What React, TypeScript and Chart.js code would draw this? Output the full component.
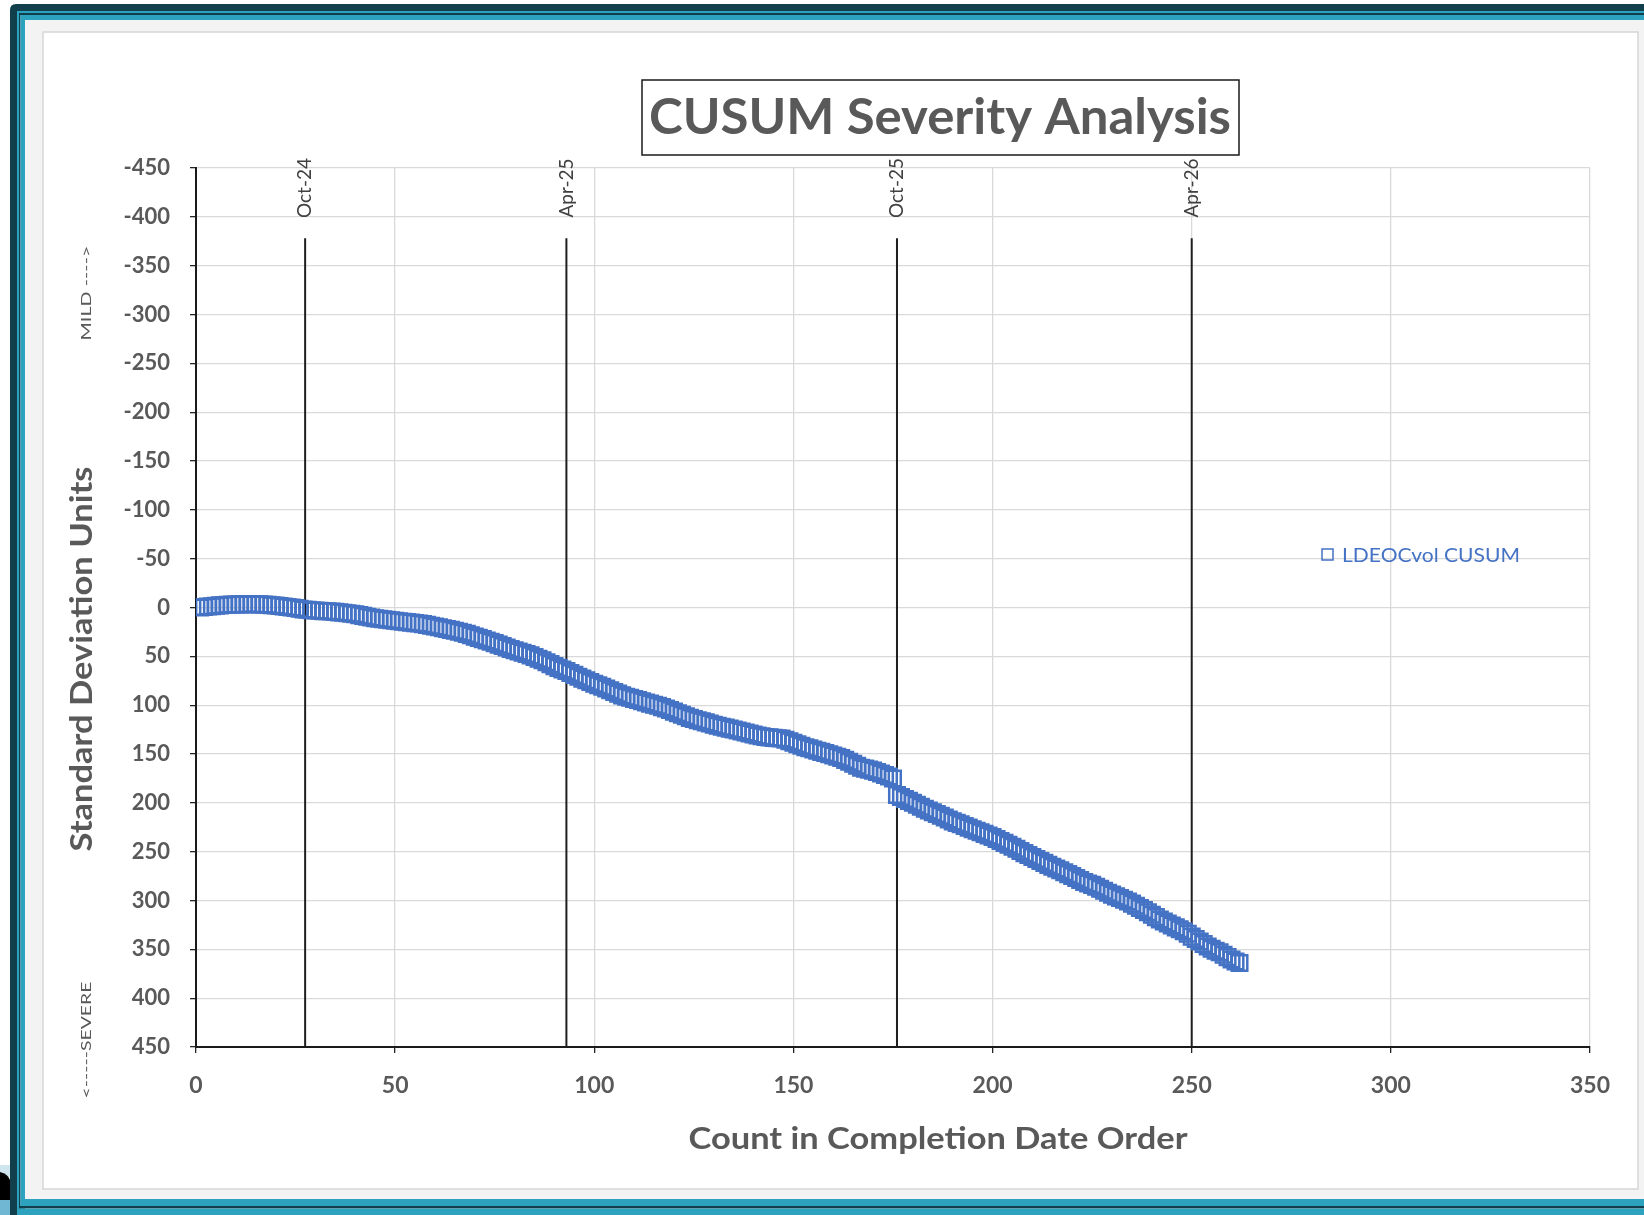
import React, { useEffect, useRef } from 'react';
import { Chart, registerables } from 'chart.js';

Chart.register(...registerables);

// CUSUM values for counts 1..262
const cusumValues: number[] = [
  0, -0.5, -1, -1.3, -1.8, -2.2, -2.6, -2.8, -3, -3.1,
  -3.2, -3.3, -3.3, -3.4, -3.3, -3.2, -3, -2.8, -2.4, -2,
  -1.5, -1, -0.5, 0, 0.6, 1.2, 2, 2.4, 2.8, 3.1,
  3.4, 3.7, 3.9, 4, 4.5, 5, 5.4, 5.9, 6.4, 7,
  7.8, 8.6, 9.4, 10.2, 11, 11.6, 12.1, 12.6, 13, 13.5,
  14, 14.5, 15, 15.5, 16, 16.4, 17, 17.8, 18.6, 19.5,
  20.3, 21.2, 22, 22.9, 23.8, 24.8, 25.9, 27, 28.4, 29.8,
  31.1, 32.4, 33.7, 35, 36.5, 38, 39.5, 41, 42.5, 43.8,
  45, 46.3, 47.6, 49, 50.7, 52.4, 54, 56, 58, 60,
  61.8, 63.5, 65, 67, 69, 71, 72.8, 74.5, 76.2, 78,
  79.6, 81.2, 83, 84.8, 86.5, 88.2, 90, 91.3, 92.5, 93.7,
  94.8, 96, 97.2, 98.4, 99.5, 100.5, 102, 103.5, 105, 106.6,
  108.2, 109.8, 111.4, 113, 114.2, 115.4, 116.5, 117.6, 118.8, 120,
  121, 122, 123, 124, 125, 126, 127, 128, 129, 130,
  131, 131.8, 132.5, 133, 133.5, 133.8, 134.2, 135.5, 137, 138.5,
  140, 141.5, 143, 144.2, 145.4, 146.6, 147.8, 149, 150.3, 151.6,
  152.8, 154, 156, 158, 160, 162, 164, 165, 166, 167,
  168.5, 170, 171.5, 173, 175, 192,
  194, 196, 198, 200, 202, 204, 206, 207.8, 209.6, 211.4, 213.2, 215, 217, 219,
  220.5, 222, 223.7, 225.4, 227, 228.6, 230.2, 231.8, 233.4, 235,
  237, 239, 241, 243, 245, 247, 249.3, 251.5, 253.5, 255.5,
  257.5, 259.5, 261.5, 263.5, 265.5, 267.3, 269, 271, 273, 275,
  277, 279, 281, 282.5, 284, 286, 288, 290, 292, 294,
  295.8, 297.5, 299.2, 301, 303.2, 305.4, 307.6, 309.8, 312, 314.5,
  317, 319.5, 321.5, 323.5, 325.5, 327.5, 329.5, 331.5, 334, 337,
  339.5, 342, 344.5, 347, 349.5, 351.5, 353, 355.5, 358, 360.5,
  362.5, 364,
];

const seriesLabel = 'LDEOCvol CUSUM';
const dateLineLabels = ['Oct-24', 'Apr-25', 'Oct-25', 'Apr-26'];
const dateLineCounts = [27.4, 93, 176, 250];
const dateLineSpan = [-378, 450];

const chartTitle = 'CUSUM Severity Analysis';
const xAxisTitle = 'Count in Completion Date Order';
const yAxisTitle = 'Standard Deviation Units';
const mildLabel = 'MILD ---->';
const severeLabel = '<-----SEVERE';

const W = 1644;
const H = 1215;
const BLUE = '#4472C4';
const GREY_TEXT = '#595959';
const DARK = '#123f4c';
const TEAL = '#2ca2bf';

function fitText(
  ctx: CanvasRenderingContext2D,
  text: string,
  cx: number,
  cy: number,
  width: number,
  font: string,
  color: string,
  rotate = false,
) {
  ctx.save();
  ctx.font = font;
  ctx.fillStyle = color;
  ctx.textAlign = 'center';
  ctx.textBaseline = 'middle';
  ctx.translate(cx, cy);
  if (rotate) ctx.rotate(-Math.PI / 2);
  const w = ctx.measureText(text).width;
  ctx.scale(width / w, 1);
  ctx.fillText(text, 0, 0);
  ctx.restore();
}

const decorPlugin = {
  id: 'decor',
  beforeDraw(chart: any) {
    const ctx: CanvasRenderingContext2D = chart.ctx;
    ctx.save();
    ctx.fillStyle = '#ffffff';
    ctx.fillRect(0, 0, W, H);
    ctx.fillStyle = '#f3f3f3';
    ctx.fillRect(25, 20, W - 25, 1180);
    ctx.fillStyle = '#ffffff';
    ctx.fillRect(43, 32, 1595, 1157);
    ctx.strokeStyle = '#d6d6d6';
    ctx.lineWidth = 1.5;
    ctx.strokeRect(43, 32, 1595, 1157);
    ctx.fillStyle = DARK;
    ctx.beginPath();
    ctx.moveTo(10, H);
    ctx.lineTo(10, 10);
    ctx.quadraticCurveTo(10, 4, 16, 4);
    ctx.lineTo(W, 4);
    ctx.lineTo(W, 11);
    ctx.lineTo(17, 11);
    ctx.lineTo(17, H);
    ctx.closePath();
    ctx.fill();
    ctx.fillStyle = TEAL;
    ctx.fillRect(17, 11, W - 17, 2);
    ctx.fillRect(17, 11, 2, H - 11);
    ctx.fillStyle = DARK;
    ctx.fillRect(19, 13, W - 19, 2);
    ctx.fillRect(19, 13, 1.5, H - 13);
    ctx.fillStyle = TEAL;
    ctx.fillRect(20.5, 15, W - 20.5, 5);
    ctx.fillRect(20.5, 15, 4.5, H - 15);
    ctx.fillStyle = TEAL;
    ctx.fillRect(20.5, 1199, W - 20.5, 7);
    ctx.fillStyle = DARK;
    ctx.fillRect(19, 1206, W - 19, 2.5);
    ctx.fillStyle = TEAL;
    ctx.fillRect(17, 1208.5, W - 17, 6.5);
    // bottom-left artifact
    ctx.fillStyle = '#cfe6ef';
    ctx.fillRect(0, 1165, 10, 12);
    ctx.fillStyle = '#000000';
    ctx.beginPath();
    ctx.moveTo(0, 1172);
    ctx.quadraticCurveTo(8, 1174, 10, 1180);
    ctx.lineTo(10, 1200);
    ctx.lineTo(0, 1200);
    ctx.closePath();
    ctx.fill();
    ctx.fillStyle = '#6fb7d3';
    ctx.fillRect(0, 1200, 10, 15);
    ctx.restore();
  },
  afterDraw(chart: any) {
    const ctx: CanvasRenderingContext2D = chart.ctx;
    const xs = chart.scales.x;
    ctx.save();
    ctx.strokeStyle = '#1a1a1a';
    ctx.lineWidth = 1.5;
    ctx.strokeRect(642, 80, 597, 75);
    ctx.restore();
    fitText(ctx, chartTitle, 940, 118, 582, 'bold 50px Lato', GREY_TEXT);
    fitText(ctx, yAxisTitle, 82, 659, 385, 'bold 30px Lato', GREY_TEXT, true);
    fitText(ctx, xAxisTitle, 938, 1139, 499, 'bold 30px Lato', GREY_TEXT);
    fitText(ctx, mildLabel, 86, 293, 95, '14px Lato', GREY_TEXT, true);
    fitText(ctx, severeLabel, 86, 1040, 117, '14px Lato', GREY_TEXT, true);
    dateLineLabels.forEach((lab, i) => {
      const px = xs.getPixelForValue(dateLineCounts[i]);
      ctx.save();
      ctx.font = '19px Lato';
      ctx.fillStyle = '#404040';
      ctx.textAlign = 'center';
      ctx.textBaseline = 'middle';
      ctx.translate(px, 188);
      ctx.rotate(-Math.PI / 2);
      ctx.fillText(lab, 0, 0);
      ctx.restore();
    });
    ctx.save();
    ctx.strokeStyle = BLUE;
    ctx.lineWidth = 1.5;
    ctx.strokeRect(1322, 549, 11, 11);
    ctx.restore();
    fitText(ctx, seriesLabel, 1342 + 89, 556, 178, '20px Lato', BLUE);
  },
};

export default function App() {
  const ref = useRef<HTMLCanvasElement | null>(null);

  useEffect(() => {
    if (!ref.current) return;
    const cusumPoints = cusumValues.map((v, i) => ({ x: i + 1, y: v }));
    const lineSets = dateLineCounts.map((c, i) => ({
      label: dateLineLabels[i],
      type: 'line' as const,
      data: [
        { x: c, y: dateLineSpan[0] },
        { x: c, y: dateLineSpan[1] },
      ],
      borderColor: '#1f1f1f',
      borderWidth: 2,
      pointRadius: 0,
      showLine: true,
      fill: false,
    }));
    const chart = new Chart(ref.current, {
      type: 'scatter',
      data: {
        datasets: [
          {
            label: seriesLabel,
            data: cusumPoints,
            pointStyle: 'rect',
            pointRadius: 11,
            pointBorderWidth: 2.5,
            pointBorderColor: BLUE,
            pointBackgroundColor: 'rgba(0,0,0,0)',
            borderColor: BLUE,
            backgroundColor: 'rgba(0,0,0,0)',
            showLine: false,
          },
          ...lineSets,
        ] as any,
      },
      plugins: [decorPlugin],
      options: {
        animation: false,
        responsive: false,
        devicePixelRatio: 1,
        layout: { padding: { top: 168, right: 54, left: 0, bottom: 0 } },
        plugins: {
          legend: { display: false },
          tooltip: { enabled: false },
          title: { display: false },
        },
        scales: {
          x: {
            type: 'linear',
            min: 0,
            max: 350,
            ticks: {
              stepSize: 50,
              color: GREY_TEXT,
              font: { family: 'Lato', weight: 'bold', size: 23 },
              padding: 19,
              maxRotation: 0,
            },
            grid: {
              color: '#d9d9d9',
              lineWidth: 1.3,
              tickColor: '#262626',
              tickLength: 6,
            },
            border: { display: true, color: '#1a1a1a', width: 2 },
            afterFit: (s: any) => {
              s.height = 168;
            },
          },
          y: {
            type: 'linear',
            reverse: true,
            min: -450,
            max: 450,
            ticks: {
              stepSize: 50,
              color: GREY_TEXT,
              font: { family: 'Lato', weight: 'bold', size: 22 },
              padding: 20,
            },
            grid: {
              color: '#d9d9d9',
              lineWidth: 1.3,
              tickColor: '#262626',
              tickLength: 6,
            },
            border: { display: true, color: '#1a1a1a', width: 2 },
            afterFit: (s: any) => {
              s.width = 196;
            },
          },
        },
      } as any,
    });
    return () => chart.destroy();
  }, []);

  return (
    <div style={{ position: 'absolute', left: 0, top: 0, width: W, height: H }}>
      <canvas ref={ref} width={W} height={H} style={{ width: W, height: H, display: 'block' }} />
    </div>
  );
}
